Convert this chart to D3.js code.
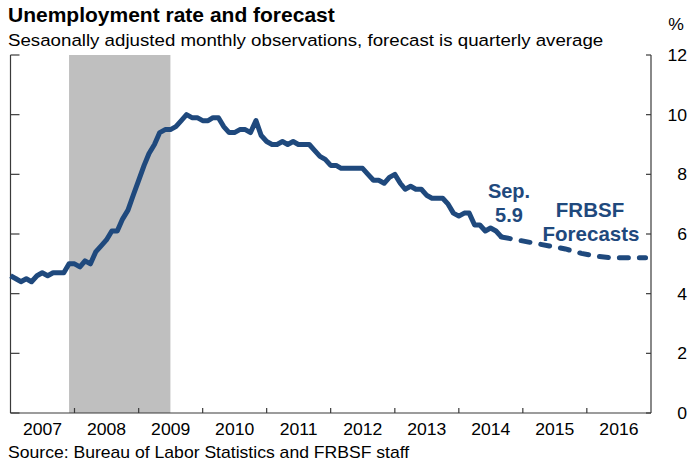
<!DOCTYPE html>
<html>
<head>
<meta charset="utf-8">
<script src="https://cdn.jsdelivr.net/npm/d3@7"></script>
<style>
  body { margin: 0; background: #fff; }
  text { font-family: "Liberation Sans", Arial, sans-serif; }
</style>
</head>
<body>
<svg id="chart" width="688" height="464"></svg>
<script>
// Monthly unemployment rate, seasonally adjusted (Jan 2007 - Sep 2014)
const rates2007 = [4.6, 4.5, 4.4, 4.5, 4.4, 4.6, 4.7, 4.6, 4.7, 4.7, 4.7, 5.0];
const rates2008 = [5.0, 4.9, 5.1, 5.0, 5.4, 5.6, 5.8, 6.1, 6.1, 6.5, 6.8, 7.3];
const rates2009 = [7.8, 8.3, 8.7, 9.0, 9.4, 9.5, 9.5, 9.6, 9.8, 10.0, 9.9, 9.9];
const rates2010 = [9.8, 9.8, 9.9, 9.9, 9.6, 9.4, 9.4, 9.5, 9.5, 9.4, 9.8, 9.3];
const rates2011 = [9.1, 9.0, 9.0, 9.1, 9.0, 9.1, 9.0, 9.0, 9.0, 8.8, 8.6, 8.5];
const rates2012 = [8.3, 8.3, 8.2, 8.2, 8.2, 8.2, 8.2, 8.0, 7.8, 7.8, 7.7, 7.9];
const rates2013 = [8.0, 7.7, 7.5, 7.6, 7.5, 7.5, 7.3, 7.2, 7.2, 7.2, 7.0, 6.7];
const rates2014 = [6.6, 6.7, 6.7, 6.3, 6.3, 6.1, 6.2, 6.1, 5.9];

// FRBSF forecast, quarterly average (starts from the last observation)
const forecastDates = ["2014-09", "2014-12", "2015-03", "2015-06", "2015-09", "2015-12", "2016-03", "2016-06", "2016-09", "2016-12"];
const forecastRates = [5.9, 5.8, 5.7, 5.6, 5.5, 5.35, 5.25, 5.2, 5.2, 5.2];

// Recession shading (Dec 2007 - Jun 2009)
const recession = ["2007-12", "2009-07"];

const yearLabels = [2007, 2008, 2009, 2010, 2011, 2012, 2013, 2014, 2015, 2016];
const yTicks = [0, 2, 4, 6, 8, 10, 12];

const lineColor = "#1f497d";
const parseMonth = d3.timeParse("%Y-%m");

function buildActual() {
    const years = [rates2007, rates2008, rates2009, rates2010, rates2011, rates2012, rates2013, rates2014];
    const out = [];
    years.forEach((arr, yi) => {
        arr.forEach((v, m) => out.push({ date: new Date(2007 + yi, m, 1), value: v }));
    });
    return out;
}

// regular text in the source looks slightly stretched horizontally
function addText(g, x, y, str, size, anchor, opts) {
    opts = opts || {};
    const sx = opts.sx || 1.1;
    return g.append("text")
        .attr("transform", `translate(${x},${y}) scale(${sx},1)`)
        .attr("text-anchor", anchor || "start")
        .style("font-size", size + "px")
        .style("font-weight", opts.bold ? "bold" : "normal")
        .attr("fill", opts.fill || "#000")
        .text(str);
}

function drawChart() {
    const svg = d3.select("#chart");
    const left = 10.5, right = 651, top = 55, bottom = 413;

    const x = d3.scaleTime()
        .domain([new Date(2007, 0, 1), new Date(2017, 0, 1)])
        .range([left, right]);
    const y = d3.scaleLinear()
        .domain([0, 12])
        .range([bottom, top]);

    // recession bar
    svg.append("rect")
        .attr("x", x(parseMonth(recession[0])))
        .attr("y", top)
        .attr("width", x(parseMonth(recession[1])) - x(parseMonth(recession[0])))
        .attr("height", bottom - top)
        .attr("fill", "#bfbfbf");

    // axes frame: left, right, bottom
    const axisColor = "#3a3a3a";
    svg.append("line").attr("x1", left).attr("x2", left).attr("y1", y(12)).attr("y2", bottom)
        .attr("stroke", axisColor).attr("stroke-width", 1.2);
    svg.append("line").attr("x1", right).attr("x2", right).attr("y1", y(12)).attr("y2", bottom)
        .attr("stroke", axisColor).attr("stroke-width", 1.2);
    svg.append("line").attr("x1", left).attr("x2", right).attr("y1", bottom).attr("y2", bottom)
        .attr("stroke", axisColor).attr("stroke-width", 1.2);

    // left ticks point inward
    svg.selectAll(".ltick").data(yTicks).enter().append("line")
        .attr("x1", left).attr("x2", left + 9)
        .attr("y1", d => y(d)).attr("y2", d => y(d))
        .attr("stroke", axisColor).attr("stroke-width", 1.2);
    // right ticks point inward
    svg.selectAll(".rtick").data(yTicks).enter().append("line")
        .attr("x1", right - 5).attr("x2", right)
        .attr("y1", d => y(d)).attr("y2", d => y(d))
        .attr("stroke", axisColor).attr("stroke-width", 1.2);
    // year boundary ticks on the bottom
    svg.selectAll(".xtick").data(yearLabels.slice(1)).enter().append("line")
        .attr("x1", d => x(new Date(d, 0, 1))).attr("x2", d => x(new Date(d, 0, 1)))
        .attr("y1", bottom).attr("y2", bottom - 5)
        .attr("stroke", axisColor).attr("stroke-width", 1.2);

    // y labels on the right
    yTicks.forEach(t => addText(svg, 687, y(t) + 6, t, 16, "end"));
    addText(svg, 684, 30, "%", 16, "end");

    // year labels centred in each year
    yearLabels.forEach(yr => {
        const cx = (x(new Date(yr, 0, 1)) + x(new Date(yr + 1, 0, 1))) / 2;
        addText(svg, cx, 435, yr, 16, "middle");
    });

    // lines
    const line = d3.line()
        .x(d => x(d.date))
        .y(d => y(d.value));

    const forecast = forecastDates.map((d, i) => ({ date: parseMonth(d), value: forecastRates[i] }));

    svg.append("path")
        .datum(forecast)
        .attr("d", line)
        .attr("fill", "none")
        .attr("stroke", lineColor)
        .attr("stroke-width", 5)
        .attr("stroke-linecap", "round")
        .attr("stroke-dasharray", "9,11");

    svg.append("path")
        .datum(buildActual())
        .attr("d", line)
        .attr("fill", "none")
        .attr("stroke", lineColor)
        .attr("stroke-width", 5)
        .attr("stroke-linejoin", "round");

    // annotations
    addText(svg, 509, 198, "Sep.", 20, "middle", { bold: true, sx: 1, fill: lineColor });
    addText(svg, 509, 222, "5.9", 20, "middle", { bold: true, sx: 1, fill: lineColor });
    addText(svg, 590, 217, "FRBSF", 20.5, "middle", { bold: true, sx: 1, fill: lineColor });
    addText(svg, 591, 241, "Forecasts", 20.5, "middle", { bold: true, sx: 1, fill: lineColor });

    // titles and source
    addText(svg, 8, 22, "Unemployment rate and forecast", 21, "start", { bold: true, sx: 1 });
    addText(svg, 8, 46, "Sesaonally adjusted monthly observations, forecast is quarterly average", 17, "start");
    addText(svg, 8, 458, "Source: Bureau of Labor Statistics and FRBSF staff", 16, "start");
}

drawChart();
</script>
</body>
</html>
